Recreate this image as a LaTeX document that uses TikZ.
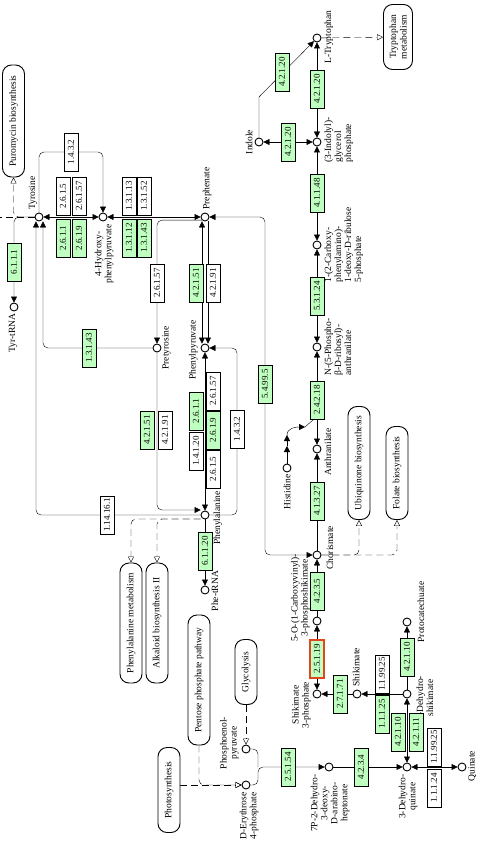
\documentclass[tikz,border=0pt]{standalone}
\usepackage{fontspec}
\setmainfont{Liberation Serif}
\usetikzlibrary{arrows.meta,backgrounds}

\definecolor{ecgreen}{RGB}{191,255,191}
\definecolor{hitred}{RGB}{225,70,30}

\tikzset{
  ec/.style={draw, fill=ecgreen, rotate=90, minimum width=38pt, minimum height=14pt, inner sep=0pt, font=\fontsize{9}{10}\selectfont},
  ecw/.style={ec, fill=white},
  cpd/.style={circle, draw, fill=white, minimum size=8pt, inner sep=0pt},
  lbl/.style={rotate=90, inner sep=1pt, font=\fontsize{9.5}{10}\selectfont},
  pmap/.style={draw, fill=white, rotate=90, rounded corners=9pt, minimum height=22pt, inner sep=1pt, align=center, font=\fontsize{9.5}{10.5}\selectfont},
  arr/.style={-{Triangle[length=6pt,width=6pt]}},
  brr/.style={{Triangle[length=6pt,width=6pt]}-{Triangle[length=6pt,width=6pt]}},
  mlink/.style={dash pattern=on 7pt off 4pt, -{Triangle[open,length=6pt,width=6pt]}},
}

\begin{document}
\begin{tikzpicture}[x=1pt, y=-1pt, line width=0.9pt]
		\useasboundingbox (0,0) rectangle (498,845);

		% tyrosine and phenylalanine
		\node[cpd] (tyr) at (39,217) {};
		\node[cpd] (hpp) at (103,217) {};
		\node[cpd] (pre) at (205,217) {};
		\node[cpd] (ptyr) at (157,348) {};
		\node[cpd] (ppyr) at (205,348) {};
		\node[cpd] (phe) at (205,515) {};
		\node[cpd] (phetrna) at (205,590) {};
		\node[cpd] (tyrtrna) at (14,307) {};
		\node[lbl, anchor=west] (tyrL) at (33,211) {Tyrosine};
		\node[lbl, anchor=east, align=center] (hppL) at (104,223) {4-Hydroxy-\\phenylpyruvate};
		\node[lbl, anchor=west] (preL) at (207,211) {Prephenate};
		\node[lbl, anchor=north] (ptyrL) at (161,348) {Pretyrosine};
		\node[lbl, anchor=south] (ppyrL) at (199,350) {Phenylpyruvate};
		\node[lbl, anchor=north] (pheL) at (212,518) {Phenylalanine};
		\node[lbl, anchor=north] (phetrnaL) at (210,591) {Phe-tRNA};
		\node[lbl, anchor=east] (tyrtrnaL) at (13,312) {Tyr-tRNA};

		% tryptophan
		\node[cpd] (chor) at (317,555) {};
		\node[cpd] (anth) at (317,449) {};
		\node[cpd] (his) at (287,468) {};
		\node[cpd] (npra) at (317,347) {};
		\node[cpd] (cdrp) at (317,245) {};
		\node[cpd] (igp) at (317,142) {};
		\node[cpd] (indole) at (259,142) {};
		\node[cpd] (trp) at (317,38) {};
		\node[lbl, anchor=north] (chorL) at (325,548) {Chorismate};
		\node[lbl, anchor=north] (anthL) at (323,452) {Anthranilate};
		\node[lbl, anchor=east] (hisL) at (287,473) {Histidine};
		\node[lbl, anchor=north, align=left] (npraL) at (323,347) {N-(5-Phospho-\\β-D-ribosyl)-\\anthranilate};
		\node[lbl, anchor=north, align=left] (cdrpL) at (323,245) {1-(2-Carboxy-\\phenylamino)-\\1-deoxy-D-ribulose\\5-phosphate};
		\node[lbl, anchor=north, align=left] (igpL) at (323,140) {(3-Indolyl)-\\glycerol\\phosphate};
		\node[lbl, anchor=south] (indoleL) at (254,142) {Indole};
		\node[lbl, anchor=north] (trpL) at (323,37) {L-Tryptophan};

		% shikimate
		\node[cpd] (epsp) at (317,621) {};
		\node[cpd] (s3p) at (317,694) {};
		\node[cpd] (shik) at (357,694) {};
		\node[cpd] (dhs) at (407,694) {};
		\node[cpd] (pca) at (407,622) {};
		\node[cpd] (dhq) at (407,767) {};
		\node[cpd] (quin) at (462,767) {};
		\node[cpd] (dahp) at (329,767) {};
		\node[cpd] (pep) at (246,749) {};
		\node[cpd] (e4p) at (246,785) {};
		\node[lbl, anchor=south, align=center] (epspL) at (311,598) {5-O-(1-Carboxyvinyl)-\\3-phosphoshikimate};
		\node[lbl, anchor=south, align=center] (s3pL) at (312,705) {Shikimate\\3-phosphate};
		\node[lbl, anchor=west] (shikL) at (356,688) {Shikimate};
		\node[lbl, anchor=north, align=center] (dhsL) at (415,698) {3-Dehydro-\\shikimate};
		\node[lbl, anchor=north] (pcaL) at (416,612) {Protocatechuate};
		\node[lbl, anchor=east, align=center] (dhqL) at (408,773) {3-Dehydro-\\quinate};
		\node[lbl, anchor=north] (quinL) at (467,766) {Quinate};
		\node[lbl, anchor=east, align=center] (dahpL) at (330,773) {7P-2-Dehydro-\\3-deoxy-\\D-arabino-\\heptonate};
		\node[lbl, anchor=south, align=center] (pepL) at (240,743) {Phosphoenol-\\pyruvate};
		\node[lbl, anchor=east, align=center] (e4pL) at (249,791) {D-Erythrose\\4-phosphate};

		% other maps
		\node[pmap, minimum width=112pt] (puro) at (13.5,121) {Puromycin biosynthesis};
		\node[pmap, minimum width=65pt, minimum height=29pt] (trpmet) at (398,37) {Tryptophan\\metabolism};
		\node[pmap, minimum width=120pt] (phemet) at (131,623) {Phenylalanine metabolism};
		\node[pmap, minimum width=120pt] (alk) at (157,623) {Alkaloid biosynthesis II};
		\node[pmap, minimum width=130pt] (ppp) at (199,680) {Pentose phosphate pathway};
		\node[pmap, minimum width=65pt] (glyc) at (246,672) {Glycolysis};
		\node[pmap, minimum width=85pt] (photo) at (169,790) {Photosynthesis};
		\node[pmap, minimum width=113pt] (ubi) at (359,463) {Ubiquinone biosynthesis};
		\node[pmap, minimum width=93pt] (fol) at (397,473) {Folate biosynthesis};

		% enzymes
		\node[ec] (e6111) at (14,262) {6.1.1.1};
		\node[ecw] (e2615a) at (63,196) {2.6.1.5};
		\node[ecw] (e26157a) at (79,196) {2.6.1.57};
		\node[ec] (e2611a) at (63,238) {2.6.1.1};
		\node[ec] (e2619a) at (79,238) {2.6.1.9};
		\node[ecw] (e1432a) at (71,152) {1.4.3.2};
		\node[ecw] (e13113) at (129,196) {1.3.1.13};
		\node[ecw] (e13152) at (144,196) {1.3.1.52};
		\node[ec] (e13112) at (129,238) {1.3.1.12};
		\node[ec] (e13143a) at (144,238) {1.3.1.43};
		\node[ecw] (e26157b) at (157,283) {2.6.1.57};
		\node[ec] (e42151a) at (196,283) {4.2.1.51};
		\node[ecw] (e42191a) at (213,283) {4.2.1.91};
		\node[ec] (e13143b) at (89,348) {1.3.1.43};
		\node[ec] (e42151b) at (147,430) {4.2.1.51};
		\node[ecw] (e42191b) at (165,430) {4.2.1.91};
		\node[ec] (e2611b) at (196,411) {2.6.1.1};
		\node[ecw] (e26157c) at (213,391) {2.6.1.57};
		\node[ec] (e2619b) at (213,430) {2.6.1.9};
		\node[ecw] (e14120) at (196,451) {1.4.1.20};
		\node[ecw] (e2615b) at (213,469) {2.6.1.5};
		\node[ecw] (e1432b) at (237,429) {1.4.3.2};
		\node[ecw] (e114161) at (107,515) {1.14.16.1};
		\node[ec] (e61120) at (205,551) {6.1.1.20};
		\node[ec] (e54995) at (265,384) {5.4.99.5};
		\node[ec] (e41148) at (317,193) {4.1.1.48};
		\node[ec] (e53124) at (317,296) {5.3.1.24};
		\node[ec] (e24218) at (317,400) {2.4.2.18};
		\node[ec] (e41327) at (317,501) {4.1.3.27};
		\node[ec] (e42120a) at (317,89) {4.2.1.20};
		\node[ec] (e42120b) at (288,142) {4.2.1.20};
		\node[ec] (e42120c) at (282,72) {4.2.1.20};
		\node[ec] (e4235) at (317,591) {4.2.3.5};
		\node[ec, draw=hitred, line width=1.6pt] (e25119) at (317,659) {2.5.1.19};
		\node[ec] (e27171) at (340,694) {2.7.1.71};
		\node[ec] (e11125) at (382,714) {1.1.1.25};
		\node[ecw] (e119925a) at (382,674) {1.1.99.25};
		\node[ec] (e42110a) at (407,657) {4.2.1.10};
		\node[ec] (e42110b) at (398,732) {4.2.1.10};
		\node[ec] (e42111) at (416,732) {4.2.1.11};
		\node[ecw] (e119925b) at (434,747) {1.1.99.25};
		\node[ecw] (e11124) at (434,788) {1.1.1.24};
		\node[ec] (e4234) at (361,767) {4.2.3.4};
		\node[ec] (e25154) at (288,767) {2.5.1.54};

		\coordinate (edgeW) at (0,217);
		\coordinate (ibend) at (259,97);
		\coordinate (h1) at (287,446);
		\coordinate (h2) at (287,435);
		\coordinate (h3) at (305,427);
		\coordinate (hend) at (313,420);
		\coordinate (brace) at (258,767);

		\begin{scope}[on background layer]
		\fill[white] (0,0) rectangle (498,845);
		% tyrosine side
		\draw[brr] (tyr) -- (hpp);
		\draw[brr] (hpp) -- (pre);
		\draw[arr, rounded corners=5pt] (tyr) |- (e1432a.center) -| (hpp);
		\draw[arr, rounded corners=5pt] (tyr) -| (tyrtrna);
		\draw[mlink, rounded corners=5pt] (tyr) -| (puro);
		\draw[dash pattern=on 7pt off 4pt] (tyr) -- (edgeW);
		\draw[arr, rounded corners=5pt] (pre.south west) -- (pre.south west -| ptyr) -- (ptyr);
		\draw[brr] ([xshift=-3pt]pre.south) -- ([xshift=-3pt]ppyr.north);
		\draw[arr] ([xshift=3pt]pre.south) -- ([xshift=3pt]ppyr.north);
		\draw[arr, rounded corners=5pt] (ptyr) -| ([xshift=4pt]tyr.south);
		% phenylalanine side
		\draw[brr] (ppyr) -- (phe);
		\draw[arr, rounded corners=5pt] (phe) -| (e1432b.center) |- (ppyr);
		\draw[arr, rounded corners=5pt] (ptyr) |- ([yshift=5pt]phe.west);
		\draw[arr, rounded corners=5pt] (phe) -| ([xshift=-3pt]tyr.south);
		\draw[arr] (phe) -- (phetrna);
		\draw[mlink, rounded corners=5pt] ([yshift=-4pt]phe.west) -| (phemet);
		\draw[mlink, rounded corners=5pt] ([yshift=-4pt]phe.west) -| (alk);
		% chorismate to tryptophan
		\draw[brr, rounded corners=5pt] (chor) -| (e54995.center) |- (pre);
		\draw[mlink, rounded corners=5pt] (chor) -| (ubi);
		\draw[mlink, rounded corners=5pt] (chor) -| (fol);
		\draw[arr] (epsp) -- (chor);
		\draw[arr] (chor) -- (anth);
		\draw[brr] (anth) -- (npra);
		\draw[brr] (npra) -- (cdrp);
		\draw[brr] (cdrp) -- (igp);
		\draw[brr] (igp) -- (trp);
		\draw[brr] (igp) -- (indole);
		\draw[arr] (indole) -- (ibend) -- (trp);
		\draw[mlink] (trp) -- (trpmet);
		\draw[arr] (his) -- (h1);
		\draw[arr] (h1) -- (h2);
		\draw[arr] (h2) to[out=90, in=180] (h3);
		\draw (h3) -- (hend);
		% shikimate pathway
		\draw[brr] (s3p) -- (epsp);
		\draw[arr] (shik) -- (s3p);
		\draw[arr] (dhs) -- (shik);
		\draw[arr] (dhs) -- (pca);
		\draw[brr] (dhq) -- (dhs);
		\draw[brr] (dhq) -- (quin);
		\draw[arr] (dahp) -- (dhq);
		\draw[rounded corners=5pt] (pep) -| (brace);
		\draw[arr, rounded corners=5pt] (e4p) -| (brace) -- (dahp);
		\draw[mlink] (glyc) -- (pep);
		\draw[mlink] (photo.south |- e4p) -- (e4p);
		\draw[mlink, rounded corners=5pt] (ppp) |- (e4p);
		\end{scope}
	\end{tikzpicture}
\end{document}
